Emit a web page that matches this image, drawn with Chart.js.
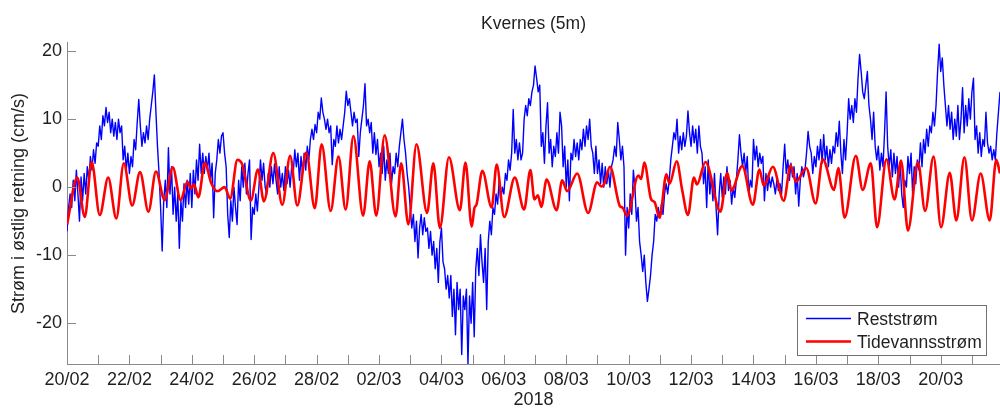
<!DOCTYPE html>
<html>
<head>
<meta charset="utf-8">
<title>Kvernes (5m)</title>
<script src="https://cdn.jsdelivr.net/npm/chart.js@4.4.0/dist/chart.umd.min.js"></script>
<style>
  html, body { margin: 0; padding: 0; background: #fff; }
  canvas { display: block; }
</style>
</head>
<body>
<canvas id="currentChart" width="1000" height="408"></canvas>
<script>
// Reststrøm, one value every 0.05 day from 20/02 00:00 (cm/s)
const restStart = 0;
const restStep = 0.05;
const restValues = [
  -6.5,-3,-1,-3,1,-2,2.5,-1,-5,1.5,-2,2,-1,3,1,4.5,2.5,5.5,3.5,6.5,
  6,9,7,10.5,9,11.7,9.5,11,8,10,7.5,9.5,7,10,8,9,4,6,2.5,5,
  2,4.5,3,7,5.5,9.5,12.9,9,6,8,6.5,9,7,10,12,14,16.5,11,6,2,
  -3,-9.4,-2,1,-3,5.8,-1,3,-4,0,-5,-1,-9,-2,-5,0.5,-3,1,-2.5,2,
  -3,2.5,-1,4,1,6.3,2,5,2,4.5,2.5,5,1,3.5,-4.5,2,4,7,5,7.5,
  8,5,3,-4,-7.4,-2,-5,0,-3,-5.5,1,-2,3,0,3.5,-1,2,4,-7.7,-3,
  -4,-1,-3.5,0,4,1,3.5,0,-1,2,0,3,0.5,3.4,1,-1,3,0,2,-0.5,
  3,0.5,2.5,0,3,2,5.5,3,5,1,4.5,2,5,2.5,6,4,7,8.5,7,9.2,
  8,11,10,13.1,11,10,8.5,10,8,9,3.3,7,6,9,6.5,8.5,7,9,11,14.1,
  12,13,11,9,11,9.5,10,4.5,8,10,12,15.2,9,10,8,9.5,5,8,4.8,7,
  3,5,2,6,1,4,2,5,0.5,3,2,5,3,6,8,10,7,5,2,0,
  -3,-6,-4,-8,-5,-10.4,-6,-4,-7,-4.5,-6.5,-6,-9,-6.5,-10,-8,-12,-9,-14,-8,
  -6,-11,-12,-15,-13,-16.3,-13,-19,-15,-21.7,-14,-18,-15,-24.6,-16,-18,-15,-26,-16,-20,
  -14,-22,-12,-9,-13,-7,-11,-14,-9,-18,-8,-5,-7,-3,-4,-1,-2.5,1,-2,0,
  -1,2,1,4,2.5,5,11.4,5,7,4,6.5,4,5,10,12,10.5,13,12,14,15,
  17.8,16,14,15,6,8,3.5,9,12.4,5,7,3,6,4.5,8,5,11,9,3,6,
  0,4,-2,5,4,7,4.5,6.5,4,7,5.5,8.5,6,9,7,10,6,5,2,6,
  2,4,0.5,3.5,0,3,0.5,2.5,0,3,4,6,4.5,9.5,7,4,6,3,-10,-3,
  -6,-1,-4,2.5,0,-5,-3,-8,-10,-12.4,-10,-14,-16.8,-15,-13,-10,-8,-4,-5,-3,
  -4.5,-2.5,-4,-1,0.5,-1,1,4,6,8,7,10,5,7.5,5.5,8,6,7.5,11.2,8,
  6,9,6.5,8.5,5,9,6,5,0.5,3,-3,4,-1,1.5,-2,2,-3,-7,-1,2,
  -1.5,1.5,-1,3,-0.5,1,-2.5,0,-1.5,1,4,7.7,5,3,5,2,4.5,-1,1,0,
  7,4,6,3,5,3.5,4.5,-2,2,-0.5,1.5,0,1.5,0.5,-1,1,-0.5,0.5,-1,3,
  6.3,2,4,1,3.5,1.5,3,-1,2,-2.8,1,3,1.5,2.5,5,8.2,6,5,2,4.5,
  3,6,4,7,3.5,7.7,4,6,3,5.5,3.5,6,5,8,6,9.7,5,2,7,4,
  8,13,10,12,9.5,13,11,16,19.5,17,14,13,15,17,12,10,7,11,6,4,
  6,2.5,5,3,8,14,6,3,5.5,1.5,5,2,4.5,0,3.5,-1,-3,1,0,4.5,
  2,5,-1,3,0.5,4,2.5,6.5,3,7,5,8.5,6,9,8,11,9,12,17,21,
  17,19,15,12,9,12,8.5,11,7,10,7.5,12,7,10,14.6,8,12,9,13,10,
  14,16,7,9,5,8,4.5,7,6,11,6.5,5,6,4,5.5,4,8,11,14
];

// Tidevannsstrøm turning points: days after 20/02 and speed (cm/s)
const tideDays = [
  0.00,0.33,0.57,0.79,1.05,1.32,1.58,1.82,2.09,2.34,2.61,2.85,3.13,3.39,3.64,3.86,3.97,4.07,4.21,4.42,
  4.62,4.82,5.05,5.23,5.46,5.62,5.89,6.12,6.31,6.61,6.90,7.15,7.38,7.67,7.94,8.16,8.45,8.70,8.93,9.18,
  9.49,9.70,9.91,10.18,10.53,10.71,10.94,11.20,11.54,11.74,11.95,12.24,12.59,12.77,12.97,13.06,13.12,13.31,13.61,13.77,
  14.01,14.35,14.65,14.85,14.98,15.09,15.20,15.37,15.69,15.87,16.03,16.35,16.70,16.99,17.12,17.22,17.40,17.72,17.80,17.95,
  18.31,18.40,18.50,18.72,18.83,18.99,19.21,19.31,19.54,19.71,19.90,20.09,20.19,20.46,20.94,21.16,21.29,21.64,21.98,22.19,
  22.33,22.62,22.97,23.19,23.36,23.69,23.99,24.22,24.58,24.72,24.92,25.28,25.50,25.76,25.96,26.26,26.52,26.73,26.95,27.27,
  27.50,27.77,28.01,28.29,28.50,28.76,29.00,29.28,29.57,29.78,29.90
];
const tideValues = [
  -5.5,1.4,-4.4,3.7,-4.1,1.4,-4.6,3.5,-2.7,2.2,-3.6,2.3,-1.9,2.9,-1.9,0.8,-0.2,0.4,-1.5,3.6,
  0.6,-0.6,0.0,-1.7,4.0,3.3,-2.0,2.6,-2.1,5.0,-2.6,4.6,-2.7,5.1,-3.1,6.3,-3.5,4.5,-3.3,7.5,
  -4.2,3.8,-4.2,7.6,-4.3,3.5,-5.5,6.3,-3.8,3.5,-6.0,4.4,-3.4,3.6,-5.8,-3.0,-2.6,2.4,-3.0,3.3,
  -4.4,1.4,-3.3,2.5,-1.8,-1.2,-2.9,1.1,-3.4,1.0,-0.6,2.0,-3.8,0.7,0.1,0.5,3.0,-2.8,-3.0,-4.2,
  1.7,1.2,3.6,-1.8,-2.2,-4.5,1.9,0.5,3.8,-0.3,-4.1,1.4,0.4,3.7,-3.6,2.1,-0.5,3.1,-2.6,2.6,
  0.2,3.0,-2.0,3.2,0.8,2.8,-2.4,4.1,-0.4,2.8,-4.5,4.6,-0.4,3.5,-5.9,4.1,-1.8,3.9,-6.4,3.7,
  -3.5,4.5,-5.9,2.1,-4.9,4.4,-4.9,2.0,-4.9,4.0,2.0
];

// Axis ticks: one per day, a date label every second day
const dayTicks = [0,1,2,3,4,5,6,7,8,9,10,11,12,13,14,15,16,17,18,19,20,21,22,23,24,25,26,27,28,29];
const labelDays = [0,2,4,6,8,10,12,14,16,18,20,22,24,26,28];
const dateLabels = ['20/02','22/02','24/02','26/02','28/02','02/03','04/03','06/03','08/03','10/03','12/03','14/03','16/03','18/03','20/03'];
const yTicks = [-20,-10,0,10,20];

const FONT = "'Liberation Sans', Arial, Helvetica, sans-serif";
const TEXT = '#1f1f1f';
const AXIS = '#8a8a8a';

const restPoints = restValues.map((v, i) => ({ x: restStart + i * restStep, y: v }));
const tidePoints = tideValues.map((v, i) => ({ x: tideDays[i], y: v }));

// MATLAB style tick marks pointing into the plot
const innerTicks = {
  id: 'innerTicks',
  afterDatasetsDraw(chart) {
    const { ctx, chartArea, scales } = chart;
    ctx.save();
    ctx.strokeStyle = AXIS;
    ctx.lineWidth = 1;
    ctx.beginPath();
    scales.x.ticks.forEach(t => {
      const px = Math.round(scales.x.getPixelForValue(t.value)) + 0.5;
      ctx.moveTo(px, chartArea.bottom);
      ctx.lineTo(px, chartArea.bottom - 9);
    });
    scales.y.ticks.forEach(t => {
      const py = Math.round(scales.y.getPixelForValue(t.value)) + 0.5;
      ctx.moveTo(chartArea.left, py);
      ctx.lineTo(chartArea.left + 9, py);
    });
    ctx.stroke();
    ctx.restore();
  }
};

// boxed legend in the lower right corner of the axes
const legendBox = {
  id: 'legendBox',
  afterDraw(chart) {
    const { ctx } = chart;
    const sets = chart.data.datasets;
    const rows = [318.5, 341.5];
    ctx.save();
    ctx.fillStyle = '#ffffff';
    ctx.fillRect(797, 305, 190, 51);
    ctx.strokeStyle = '#707070';
    ctx.lineWidth = 1;
    ctx.strokeRect(797.5, 305.5, 189, 50);
    sets.forEach((ds, i) => {
      ctx.strokeStyle = ds.borderColor;
      ctx.lineWidth = i === 0 ? 1.6 : 2.6;
      ctx.beginPath();
      ctx.moveTo(806, rows[i]);
      ctx.lineTo(851, rows[i]);
      ctx.stroke();
      ctx.fillStyle = TEXT;
      ctx.font = '17.5px ' + FONT;
      ctx.textBaseline = 'middle';
      ctx.textAlign = 'left';
      ctx.fillText(ds.label, 857, rows[i] + 1.8);
    });
    ctx.restore();
  }
};

const ctx = document.getElementById('currentChart').getContext('2d');
const chart = new Chart(ctx, {
  type: 'line',
  data: {
    datasets: [{
      label: 'Reststrøm',
      data: restPoints,
      borderColor: '#0000ff',
      borderWidth: 1.4,
      borderJoinStyle: 'round',
      pointRadius: 0,
      tension: 0,
      order: 1
    }, {
      label: 'Tidevannsstrøm',
      data: tidePoints,
      borderColor: '#ff0000',
      borderWidth: 2.6,
      pointRadius: 0,
      cubicInterpolationMode: 'monotone',
      order: 0
    }]
  },
  options: {
    responsive: false,
    animation: false,
    events: [],
    layout: { padding: 0 },
    plugins: {
      legend: { display: false },
      tooltip: { enabled: false },
      title: {
        display: true,
        fullSize: false,
        text: 'Kvernes (5m)',
        color: TEXT,
        font: { family: FONT, size: 17.5, weight: 'normal' },
        padding: { top: 13.5, bottom: 8.4 }
      }
    },
    scales: {
      x: {
        type: 'linear',
        min: 0,
        max: 29.9,
        afterBuildTicks: s => { s.ticks = dayTicks.map(v => ({ value: v })); },
        afterFit: s => { s.height = 44; },
        grid: { display: false, drawTicks: false },
        border: { display: true, color: AXIS, width: 1 },
        ticks: {
          autoSkip: false,
          maxRotation: 0,
          padding: 5,
          color: TEXT,
          font: { family: FONT, size: 18 },
          callback: v => {
            const i = labelDays.indexOf(v);
            return i >= 0 ? dateLabels[i] : '';
          }
        },
        title: {
          display: true,
          text: '2018',
          color: TEXT,
          font: { family: FONT, size: 18, lineHeight: 1 },
          padding: { top: 0, bottom: -1 }
        }
      },
      y: {
        min: -26,
        max: 21.2,
        afterBuildTicks: s => { s.ticks = yTicks.map(v => ({ value: v })); },
        afterFit: s => { s.width = 67; },
        grid: { display: false, drawTicks: false },
        border: { display: true, color: AXIS, width: 1 },
        ticks: {
          padding: 5,
          color: TEXT,
          font: { family: FONT, size: 18 }
        },
        title: {
          display: true,
          text: 'Strøm i østlig retning (cm/s)',
          color: TEXT,
          font: { family: FONT, size: 18 },
          padding: { top: 8, bottom: 0 }
        }
      }
    }
  },
  plugins: [innerTicks, legendBox]
});
</script>
</body>
</html>
